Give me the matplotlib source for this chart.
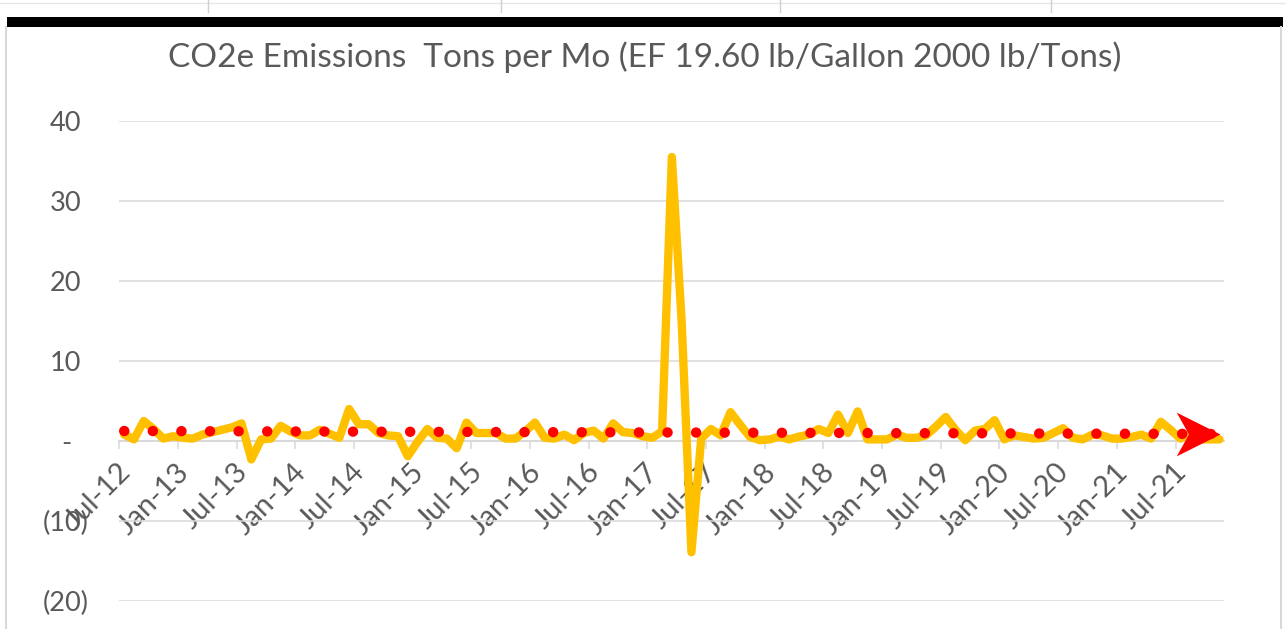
import numpy as np
import matplotlib
matplotlib.use("Agg")
import matplotlib.pyplot as plt
from matplotlib.path import Path
from matplotlib.transforms import ScaledTranslation
from matplotlib.lines import Line2D
from matplotlib.patches import Rectangle

plt.rcParams['font.family'] = ['Lato', 'DejaVu Sans']

# ---------------- data ----------------
title = 'CO2e Emissions  Tons per Mo (EF 19.60 lb/Gallon 2000 lb/Tons)'

# monthly values, Jul-12 .. Nov-21
emissions = [
    0.8, 0.2, 2.5, 1.5, 0.3, 0.6, 0.4, 0.3, 0.8, 1.1,
    1.4, 1.7, 2.2, -2.3, 0.2, 0.3, 1.9, 1.2, 0.7, 0.7,
    1.4, 0.9, 0.4, 4.0, 2.1, 2.1, 1.0, 0.7, 0.6, -1.9,
    -0.1, 1.5, 0.4, 0.3, -0.9, 2.3, 1.0, 1.0, 1.0, 0.3,
    0.3, 1.2, 2.3, 0.4, 0.3, 0.8, 0.1, 1.0, 1.3, 0.3,
    2.2, 1.1, 1.0, 0.6, 0.4, 1.2, 35.5, 15.0, -13.9, 0.3,
    1.5, 0.7, 3.6, 2.0, 0.5, 0.1, 0.2, 0.55, 0.2, 0.55,
    0.8, 1.5, 1.0, 3.3, 1.0, 3.7, 0.2, 0.2, 0.2, 0.8,
    0.4, 0.4, 0.7, 1.8, 3.0, 1.4, 0.1, 1.3, 1.5, 2.6,
    0.2, 0.7, 0.5, 0.3, 0.4, 1.0, 1.6, 0.4, 0.2, 0.8,
    0.7, 0.3, 0.3, 0.5, 0.8, 0.3, 2.4, 1.4, 0.3, 0.9,
    0.2, 0.2, 0.2,
]

# trend line values at first and last month
trend_values = [1.25, 0.88]

x_tick_labels = ['Jul-12', 'Jan-13', 'Jul-13', 'Jan-14', 'Jul-14', 'Jan-15',
                 'Jul-15', 'Jan-16', 'Jul-16', 'Jan-17', 'Jul-17', 'Jan-18',
                 'Jul-18', 'Jan-19', 'Jul-19', 'Jan-20', 'Jul-20', 'Jan-21',
                 'Jul-21']
y_ticks = [-20, -10, 0, 10, 20, 30, 40]
y_tick_labels = ['(20)', '(10)', '-', '10', '20', '30', '40']

# ---------------- figure ----------------
W, H = 1286, 629
DPI = 100
fig = plt.figure(figsize=(W / DPI, H / DPI), dpi=DPI)
fig.patch.set_facecolor('white')

GRID = '#D9D9D9'
TXT = '#595959'

left_px, right_px = 119.3, 1224.4
top_px, bot_px = 121.0, 601.0
ax = fig.add_axes([left_px / W, 1 - bot_px / H,
                   (right_px - left_px) / W, (bot_px - top_px) / H])
ax.set_facecolor('none')

n = len(emissions)
xs = np.arange(n)
ax.set_xlim(-0.5, n - 0.5)
ax.set_ylim(-20, 40)

# y axis
ax.set_yticks(y_ticks, y_tick_labels)
ax.yaxis.grid(True, color=GRID, lw=1.1)
ax.set_axisbelow(True)
ax.tick_params(axis='y', length=0, pad=38.5, labelsize=19.5, labelcolor=TXT)
for lab in ax.get_yticklabels():
    lab.set_ha('center')

for s in ['left', 'right', 'top']:
    ax.spines[s].set_visible(False)
ax.spines['bottom'].set_position(('data', 0))
ax.spines['bottom'].set_color(GRID)
ax.spines['bottom'].set_linewidth(1.3)

# x axis
xpos = [-0.5 + 6 * k for k in range(len(x_tick_labels))]
ax.set_xticks(xpos, x_tick_labels)
ax.tick_params(axis='x', direction='out', length=6, width=1.1, color=GRID,
               pad=13.5, labelsize=21, labelcolor=TXT)
off = ScaledTranslation(7 / DPI, 0, fig.dpi_scale_trans)
for lab in ax.get_xticklabels():
    lab.set_rotation(45)
    lab.set_ha('right')
    lab.set_va('center')
    lab.set_rotation_mode('anchor')
    lab.set_transform(lab.get_transform() + off)

# series
ax.plot(xs, emissions, color='#FFC000', lw=6.0,
        solid_capstyle='round', solid_joinstyle='round', zorder=3)

# trend (dotted, with arrow head)
tx = [0, n - 1]
ax.plot(tx, trend_values, color='#FF0000', lw=7.5,
        linestyle=(0, (0.01, 2.735)), dash_capstyle='round', zorder=4)
arrow = Path([(0, 0), (-1, 0.5), (-0.72, 0), (-1, -0.5), (0, 0)],
             [Path.MOVETO, Path.LINETO, Path.LINETO, Path.LINETO, Path.CLOSEPOLY])
ax.plot([tx[-1]], [trend_values[-1]], marker=arrow, markersize=63,
        markerfacecolor='#FF0000', markeredgewidth=0, linestyle='none', zorder=5)

# ---------------- frame decorations ----------------
def fx(px):
    return px / W

def fy(py):
    return 1 - py / H

fig.add_artist(Line2D([fx(6), fx(6)], [0, fy(27)], color=GRID, lw=1.5))
fig.add_artist(Line2D([fx(1281), fx(1281)], [0, fy(27)], color=GRID, lw=1.5))
fig.add_artist(Rectangle((fx(7), fy(27)), fx(1283) - fx(7), 10 / H,
                         transform=fig.transFigure, color='black', lw=0))
fig.add_artist(Line2D([0, 1], [fy(3), fy(3)], color='#E6E6E6', lw=1.0))
for vx in [208, 501, 780, 1051]:
    fig.add_artist(Line2D([fx(vx), fx(vx)], [fy(0), fy(12)], color='#D0D0D0', lw=1.0))

# title, fitted to its width in the reference
t = fig.text(fx(645), fy(67), title, ha='center', va='baseline',
             fontsize=22, color=TXT)
r = fig.canvas.get_renderer()
w = t.get_window_extent(r).width
t.set_fontsize(22 * 950.0 / w)

fig.savefig('out.png', dpi=DPI, facecolor='white')
